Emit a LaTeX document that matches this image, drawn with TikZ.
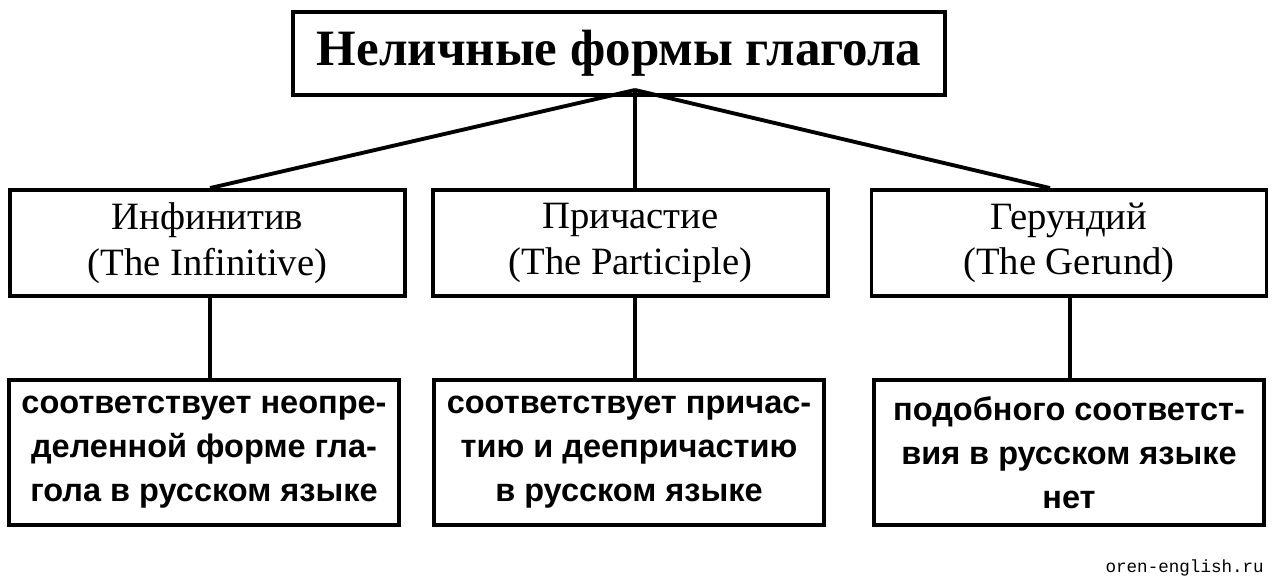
\documentclass[tikz,border=0pt]{standalone}
\usepackage{fontspec}
\setmainfont{Liberation Serif}
\setsansfont{Liberation Sans}
\setmonofont{Liberation Mono}
\usetikzlibrary{positioning}

\tikzset{
  box/.style={draw, line width=2.2pt, inner sep=0pt},
  head/.style={box, minimum width=13.04cm, minimum height=1.66cm, font=\fontsize{29}{34}\selectfont\bfseries},
  formbox/.style={box, minimum width=7.9cm, minimum height=2.12cm, align=center, font=\fontsize{22}{26}\selectfont},
  notebox/.style={box, minimum width=7.8cm, minimum height=2.9cm, align=center, font=\fontsize{18.5}{25}\selectfont\sffamily\bfseries},
  link/.style={line width=2.2pt}
}

\begin{document}
\begin{tikzpicture}
\useasboundingbox (0,0) rectangle (25.48,-11.72);

\node[head] (top) at (12.38,-1.07) {Неличные формы глагола};

\node[formbox] (inf) at (4.15,-4.86) {Инфинитив\\(The Infinitive)};
\node[formbox] (part) at (12.61,-4.86) {Причастие\\(The Participle)};
\node[formbox] (ger) at (21.38,-4.86) {Герундий\\(The Gerund)};

\node[notebox] (ninf) at (4.08,-9.05) {соответствует неопре-\\деленной форме гла-\\гола в русском языке};
\node[notebox] (npart) at (12.58,-9.05) {соответствует причас-\\тию и деепричастию\\в русском языке};
\node[notebox] (nger) at (21.38,-9.05) {подобного соответст-\\вия в русском языке\\нет};

% branches from the title
\coordinate (hub) at (12.7,-1.8);
\draw[link] (hub) -- (inf.north -| 4.2,0);
\draw[link] (hub) -- (part.north -| hub);
\draw[link] (hub) -- (ger.north -| 21.0,0);

% down to the notes
\draw[link] (inf.south -| 4.2,0) -- (ninf.north -| 4.2,0);
\draw[link] (part.south -| hub) -- (npart.north -| hub);
\draw[link] (ger.south -| 21.4,0) -- (nger.north -| 21.4,0);

\node[font=\ttfamily\fontsize{10}{12}\selectfont, anchor=east] (site) at (25.4,-11.36) {oren-english.ru};
\end{tikzpicture}
\end{document}
